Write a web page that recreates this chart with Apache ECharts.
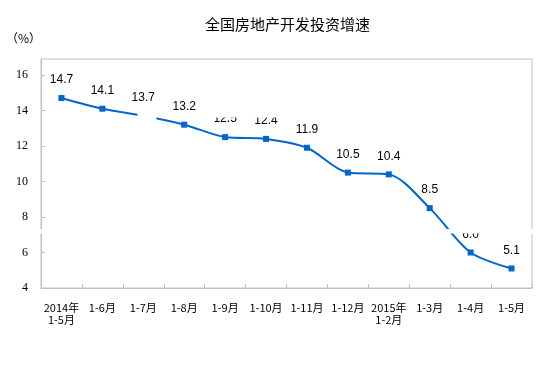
<!DOCTYPE html>
<html>
<head>
<meta charset="utf-8">
<script src="https://cdn.jsdelivr.net/npm/echarts@6/dist/echarts.min.js"></script>
<style>html,body{margin:0;padding:0;background:#fff;}#c{width:550px;height:371px;}</style>
</head>
<body>
<div id="c"></div>
<script>
var titleText = '全国房地产开发投资增速';
var unitLabel = '（%）';
var categories = ['2014年\n1-5月', '1-6月', '1-7月', '1-8月', '1-9月', '1-10月', '1-11月', '1-12月', '2015年\n1-2月', '1-3月', '1-4月', '1-5月'];
var growthRate = [14.7, 14.1, 13.7, 13.2, 12.5, 12.4, 11.9, 10.5, 10.4, 8.5, 6.0, 5.1];
var yTicks = [4, 6, 8, 10, 12, 14, 16];

var chart = echarts.init(document.getElementById('c'), null, {renderer: 'canvas'});
var gray = '#c0c0c0';
chart.setOption({
  animation: false,
  backgroundColor: '#fff',
  title: {
    text: titleText,
    left: 205, top: 17, padding: 0,
    textStyle: {fontFamily: 'Noto Sans CJK SC', fontSize: 15, fontWeight: 'normal', color: '#000'}
  },
  grid: {left: 41, right: 18, top: 59, bottom: 83, show: true, borderColor: gray, borderWidth: 1},
  xAxis: {
    type: 'category',
    data: categories,
    boundaryGap: true,
    axisLine: {lineStyle: {color: gray, width: 1}},
    axisTick: {show: true, inside: true, length: 4, lineStyle: {color: gray}},
    axisLabel: {
      interval: 0, margin: 14, color: '#000',
      fontFamily: 'Noto Sans CJK SC', fontSize: 11, lineHeight: 12
    }
  },
  yAxis: {
    type: 'value',
    min: yTicks[0], max: 16.9, interval: 2,
    name: unitLabel,
    nameLocation: 'end',
    nameGap: 15,
    nameTextStyle: {align: 'right', padding: [0, 0, 0, 0], color: '#000', fontFamily: 'Noto Sans CJK SC', fontSize: 12},
    splitLine: {show: false},
    axisLine: {show: true, lineStyle: {color: gray, width: 1}},
    axisTick: {show: true, inside: true, length: 4, lineStyle: {color: gray}},
    axisLabel: {
      showMaxLabel: false, margin: 13, color: '#000',
      fontFamily: 'Liberation Serif', fontSize: 12,
      formatter: function (v) { return yTicks.indexOf(v) >= 0 ? String(v) : ''; }
    }
  },
  series: [{
    type: 'line',
    data: growthRate,
    smooth: 0.3,
    symbol: 'rect',
    symbolSize: 6,
    itemStyle: {color: '#0066cc'},
    lineStyle: {color: '#0066cc', width: 2},
    label: {
      show: true, position: 'top', distance: 9,
      color: '#000', fontFamily: 'Liberation Sans', fontSize: 12,
      formatter: function (p) { return p.value.toFixed(1); }
    }
  }],
  graphic: [
    {type: 'rect', z: 100, silent: true, shape: {x: 34, y: 229, width: 506, height: 4.5}, style: {fill: '#fff'}},
    {type: 'rect', z: 100, silent: true, shape: {x: 137.5, y: 111, width: 19, height: 10}, style: {fill: '#fff'}},
    {type: 'rect', z: 100, silent: true, shape: {x: 205, y: 108, width: 80, height: 9.5}, style: {fill: '#fff'}}
  ]
});
</script>
</body>
</html>
